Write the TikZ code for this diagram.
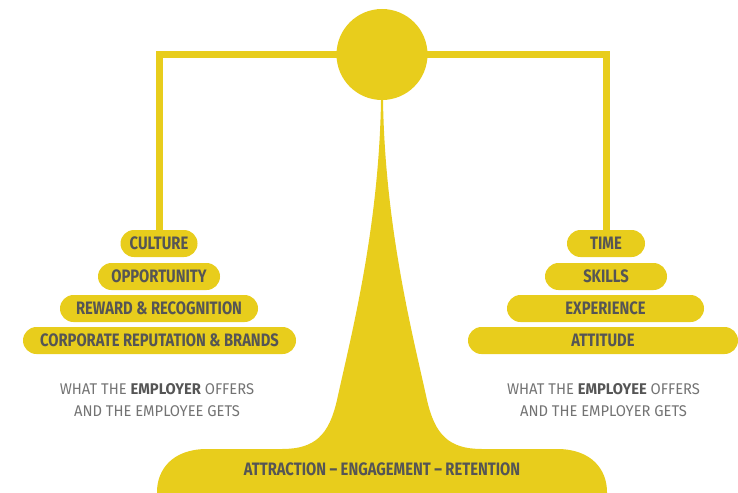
\documentclass[tikz,border=0pt]{standalone}
\usepackage{fontspec}
\setmainfont{Fira Sans}
\newfontfamily\pillfont{Fira Sans}[FakeStretch=0.82]
\newfontfamily\capfont{Fira Sans}[FakeStretch=0.95]
\definecolor{scaleyellow}{RGB}{232,205,28}
\definecolor{labelgrey}{RGB}{85,85,85}
\definecolor{captiongrey}{RGB}{115,115,115}
\begin{document}
\begin{tikzpicture}[x=1pt,y=-1pt,
    pill/.style={fill=scaleyellow,rounded corners=13.5pt,minimum height=27pt,inner sep=0pt,
        text=labelgrey,font=\pillfont\bfseries\fontsize{18}{18}\selectfont},
    beam/.style={draw=scaleyellow,line width=7pt},
    caption/.style={align=center,text=captiongrey,font=\capfont\fontsize{15.5}{22}\selectfont}]
    \useasboundingbox (0,0) rectangle (738,492);
    %% Left pan
    \node[pill,minimum width=77pt] (culture) at (159,243.5) {CULTURE};
    \node[pill,minimum width=122pt] (opportunity) at (159,276.5) {OPPORTUNITY};
    \node[pill,minimum width=198pt] (reward) at (159,308.5) {REWARD \& RECOGNITION};
    \node[pill,minimum width=273pt] (reputation) at (159.5,340.5) {CORPORATE REPUTATION \& BRANDS};
    %% Right pan
    \node[pill,minimum width=78pt] (time) at (606,243.5) {TIME};
    \node[pill,minimum width=122pt] (skills) at (606,276.5) {SKILLS};
    \node[pill,minimum width=197pt] (experience) at (605.5,308.5) {EXPERIENCE};
    \node[pill,minimum width=270pt] (attitude) at (603,340.5) {ATTITUDE};
    %% Beam
    \coordinate (pivot) at (382,54.5);
    \draw[beam] (culture.north) |- (pivot) -| (time.north);
    %% Stand
    \fill[scaleyellow] (381,100) .. controls (379,230) and (350,340) .. (337,400)
        .. controls (329,435) and (315,449) .. (282,449) -- (207,449)
        .. controls (172,449) and (157,470) .. (157,492) -- (157,500) -- (607,500) -- (607,492)
        .. controls (607,470) and (592,449) .. (557,449) -- (482,449)
        .. controls (449,449) and (435,435) .. (427,400)
        .. controls (414,340) and (385,230) .. (383,100) -- cycle;
    %% Hub
    \node[circle,fill=scaleyellow,minimum size=91pt,inner sep=0pt] (hub) at (pivot) {};
    %% Captions
    \node[caption] (employer) at (157,400) {WHAT THE \textbf{\color{labelgrey}EMPLOYER} OFFERS\\AND THE EMPLOYEE GETS};
    \node[caption] (employee) at (603.5,400) {WHAT THE \textbf{\color{labelgrey}EMPLOYEE} OFFERS\\AND THE EMPLOYER GETS};
    \node[pill,fill=none] (motto) at (382,469.5) {ATTRACTION – ENGAGEMENT – RETENTION};
\end{tikzpicture}
\end{document}
